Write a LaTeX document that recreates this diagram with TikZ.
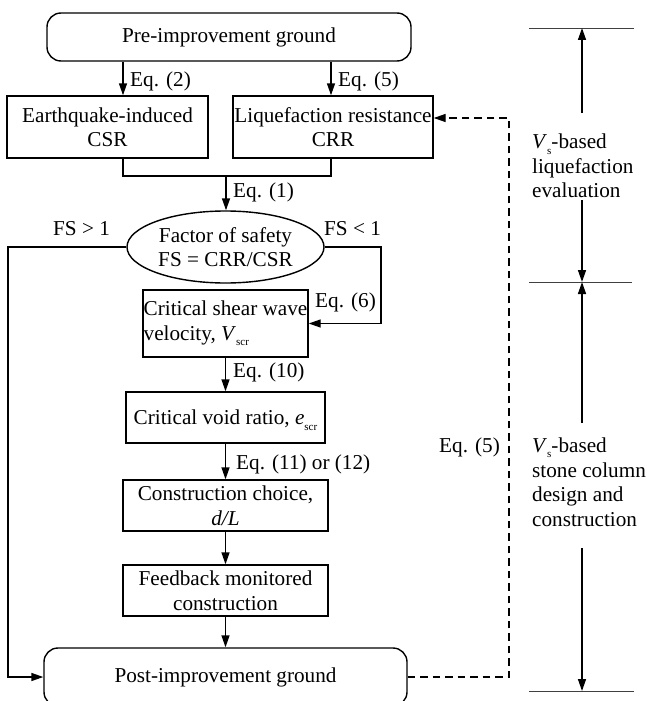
\documentclass[tikz,border=0pt]{standalone}
\usepackage{fontspec}
\setmainfont{Liberation Serif}
\usetikzlibrary{shapes.geometric,arrows.meta}
\newcommand{\fsz}{\fontsize{21.2}{24.5}\selectfont}
\newcommand{\lowsub}[1]{\raisebox{-0.55ex}{\fontsize{11}{11}\selectfont #1}}
\begin{document}
\begin{tikzpicture}[x=1pt,y=-1pt,
  box/.style={draw, line width=1.4pt, inner sep=0pt, align=center, font=\fsz},
  rbox/.style={box, rounded corners=14pt},
  lab/.style={inner sep=0pt, font=\fsz, anchor=base west},
  txt/.style={inner sep=0pt, font=\fsz, align=left, anchor=west},
  conn/.style={line width=1.4pt, line join=miter},
  arr/.style={conn, -{Triangle[length=12pt,width=8pt]}},
  thinline/.style={line width=0.8pt, black!75},
  dashline/.style={dash pattern=on 7.5pt off 5pt}]
\useasboundingbox (0,0) rectangle (646,701);

% nodes
\node[rbox, minimum width=364pt, minimum height=48pt] (pre) at (229,37) {Pre-improvement ground};
\node[box, minimum width=201pt, minimum height=62pt] (csr) at (107.5,127) {Earthquake-induced\\CSR};
\node[box, minimum width=200pt, minimum height=62pt] (crr) at (333,127) {Liquefaction resistance\\CRR};
\node[box, ellipse, minimum width=197pt, minimum height=72pt] (fs) at (225.5,247) {Factor of safety\\FS = CRR/CSR};
\node[box, minimum width=165pt, minimum height=67pt, align=left] (vscr) at (225.5,323.5) {Critical shear wave\\velocity, \textit{V}\lowsub{scr}};
\node[box, minimum width=199pt, minimum height=51pt, text depth=0pt] (escr) at (225.5,417.5) {Critical void ratio, \textit{e}\lowsub{scr}};
\node[box, minimum width=205pt, minimum height=51pt] (choice) at (225.5,505.5) {Construction choice,\\\textit{d/L}};
\node[box, minimum width=205pt, minimum height=51pt] (feed) at (225.5,590.5) {Feedback monitored\\construction};
\node[rbox, minimum width=363pt, minimum height=58pt] (post) at (225.5,677) {Post-improvement ground};

% helper coordinates
\coordinate (xl) at (123,0);
\coordinate (xr) at (331,0);
\coordinate (mg) at (226,176);
\coordinate (xL) at (8,0);
\coordinate (xR) at (381,0);
\coordinate (xD) at (509,0);
\coordinate (dy) at (0,118);

% connectors
\draw[arr] (pre.south -| xl) -- (csr.north -| xl);
\draw[arr] (pre.south -| xr) -- (crr.north -| xr);
\draw[conn] (csr.south -| xl) |- (mg) -| (crr.south -| xr);
\draw[arr] (mg) -- (mg |- fs.north);
\draw[arr] (fs.west) -| (xL |- post.west) -- (post.west);
\draw[arr] (fs.east) -| (xR |- vscr.east) -- (vscr.east);
\draw[arr] (vscr.south) -- (escr.north);
\draw[arr] (escr.south) -- (choice.north);
\draw[arr] (choice.south) -- (feed.north);
\draw[arr] (feed.south) -- (post.north);
\draw[arr, dashline] (post.east) -| (xD |- dy) -- (crr.east |- dy);

% labels
\node[lab] (e2) at (130,86) {Eq. (2)};
\node[lab] (e5) at (338,86) {Eq. (5)};
\node[lab] (e1) at (233,197) {Eq. (1)};
\node[lab] (fsg) at (53,235) {FS > 1};
\node[lab] (fsl) at (324,235) {FS < 1};
\node[lab] (e6) at (315,307) {Eq. (6)};
\node[lab] (e10) at (233,377) {Eq. (10)};
\node[lab] (e11) at (236,469) {Eq. (11) or (12)};
\node[lab] (e5b) at (439,452) {Eq. (5)};

% right-hand scale
\coordinate (s1a) at (529,28);  \coordinate (s1b) at (634,28);
\coordinate (s2a) at (529,282); \coordinate (s2b) at (632,282);
\coordinate (s3a) at (529,691); \coordinate (s3b) at (634,691);
\draw[thinline] (s1a) -- (s1b);
\draw[thinline] (s2a) -- (s2b);
\draw[thinline] (s3a) -- (s3b);
\coordinate (a1) at (582,113);
\coordinate (a2) at (582,200);
\coordinate (a3) at (582,423);
\coordinate (a4) at (582,548);
\draw[arr] (a1) -- (a1 |- s1a);
\draw[arr] (a2) -- (a2 |- s2a);
\draw[arr] (a3) -- (a3 |- s2a);
\draw[arr] (a4) -- (a4 |- s3a);
\node[txt] (ev) at (532,166) {\textit{V}\lowsub{s}-based\\liquefaction\\evaluation};
\node[txt] (sc) at (532,482) {\textit{V}\lowsub{s}-based\\stone column\\design and\\construction};
\end{tikzpicture}
\end{document}
